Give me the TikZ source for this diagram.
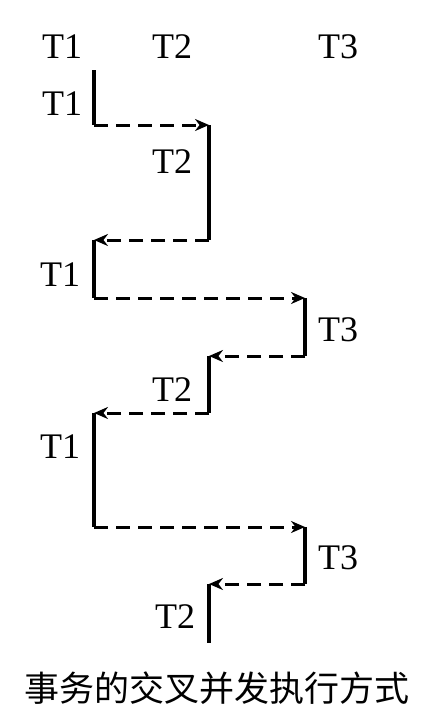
\documentclass[tikz,border=0pt]{standalone}
\usepackage{fontspec}
\setmainfont{Liberation Serif}
\newfontfamily\cjk{Noto Sans CJK SC}
\usetikzlibrary{positioning,arrows.meta}

\begin{document}
\begin{tikzpicture}[
    x=0.5pt, y=-0.5pt,
    font=\fontsize{18}{18}\selectfont,
    >={Stealth[length=7pt,width=6pt]},
    tlabel/.style={inner sep=0pt},
    run/.style={line width=1.6pt},
    switch/.style={->, line width=1.5pt, dash pattern=on 7pt off 4pt},
  ]
    \useasboundingbox (0,0) rectangle (445,728);

    % column headers
    \node[tlabel] (h1) at (62,47) {T1};
    \node[tlabel] (h2) at (172,47) {T2};
    \node[tlabel] (h3) at (338,47) {T3};

    % corners of the execution path
    \coordinate (c0) at (94,70);
    \coordinate (c1) at (94,125);
    \coordinate (c2) at (209,125);
    \coordinate (c3) at (209,240);
    \coordinate (c4) at (94,240);
    \coordinate (c5) at (94,298);
    \coordinate (c6) at (305,298);
    \coordinate (c7) at (305,356);
    \coordinate (c8) at (209,356);
    \coordinate (c9) at (209,413);
    \coordinate (c10) at (94,413);
    \coordinate (c11) at (94,527);
    \coordinate (c12) at (305,527);
    \coordinate (c13) at (305,584);
    \coordinate (c14) at (209,584);
    \coordinate (c15) at (209,643);

    % running pieces
    \draw[run] (c0) -- (c1);
    \draw[run] (c2) -- (c3);
    \draw[run] (c4) -- (c5);
    \draw[run] (c6) -- (c7);
    \draw[run] (c8) -- (c9);
    \draw[run] (c10) -- (c11);
    \draw[run] (c12) -- (c13);
    \draw[run] (c14) -- (c15);

    % switches between transactions
    \draw[switch] (c1) -- (c2);
    \draw[switch] (c3) -- (c4);
    \draw[switch] (c5) -- (c6);
    \draw[switch] (c7) -- (c8);
    \draw[switch] (c9) -- (c10);
    \draw[switch] (c11) -- (c12);
    \draw[switch] (c13) -- (c14);

    % labels of the pieces
    \node[tlabel] (r1) at (62,104) {T1};
    \node[tlabel] (r2) at (172,162) {T2};
    \node[tlabel] (r3) at (60,275) {T1};
    \node[tlabel] (r4) at (338,330) {T3};
    \node[tlabel] (r5) at (172,390) {T2};
    \node[tlabel] (r6) at (60,447) {T1};
    \node[tlabel] (r7) at (338,558) {T3};
    \node[tlabel] (r8) at (175,617) {T2};

    \node[tlabel, font=\cjk\fontsize{17.5}{17.5}\selectfont] (cap) at (217,688) {事务的交叉并发执行方式};
  \end{tikzpicture}
\end{document}
